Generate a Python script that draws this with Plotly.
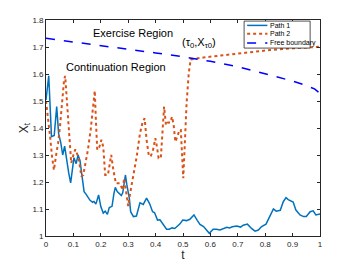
import plotly.graph_objects as go

# Path 1 (blue solid)
t1 = [0, 0.01, 0.02, 0.03, 0.039, 0.046, 0.054, 0.061, 0.068, 0.075, 0.083, 0.09, 0.097, 0.102,
      0.11, 0.117, 0.124, 0.131, 0.139, 0.146, 0.16, 0.17, 0.175, 0.182, 0.192, 0.2, 0.209, 0.216,
      0.224, 0.231, 0.241, 0.248, 0.253, 0.26, 0.268, 0.275, 0.28, 0.29, 0.295, 0.304, 0.309, 0.319,
      0.33, 0.343, 0.355, 0.367, 0.378, 0.389, 0.396, 0.407, 0.416, 0.428, 0.44, 0.45, 0.46, 0.47,
      0.477, 0.489, 0.499, 0.513, 0.525, 0.54, 0.552, 0.562, 0.575, 0.586, 0.596, 0.61, 0.622, 0.635,
      0.648, 0.66, 0.67, 0.68, 0.696, 0.71, 0.72, 0.735, 0.75, 0.763, 0.775, 0.787, 0.803, 0.815,
      0.83, 0.84, 0.855, 0.866, 0.876, 0.884, 0.893, 0.902, 0.912, 0.927, 0.94, 0.95, 0.964, 0.975,
      0.985, 0.99, 1.0]
x1 = [1.504, 1.593, 1.368, 1.372, 1.479, 1.38, 1.345, 1.30, 1.333, 1.281, 1.233, 1.197, 1.244, 1.29,
      1.268, 1.30, 1.28, 1.233, 1.164, 1.155, 1.133, 1.125, 1.128, 1.118, 1.152, 1.109, 1.085, 1.092,
      1.08, 1.105, 1.11, 1.158, 1.18, 1.165, 1.155, 1.15, 1.16, 1.226, 1.19, 1.14, 1.09, 1.072,
      1.074, 1.123, 1.117, 1.14, 1.12, 1.09, 1.087, 1.059, 1.06, 1.04, 1.025, 1.025, 1.03, 1.028,
      1.035, 1.045, 1.059, 1.057, 1.062, 1.078, 1.058, 1.043, 1.035, 1.022, 1.01, 1.025, 1.025, 1.022,
      1.028, 1.032, 1.03, 1.034, 1.037, 1.033, 1.04, 1.044, 1.028, 1.018, 1.022, 1.035, 1.044, 1.069,
      1.10, 1.092, 1.095, 1.127, 1.142, 1.135, 1.13, 1.126, 1.096, 1.078, 1.072, 1.072, 1.09, 1.093,
      1.078, 1.08, 1.082]

# Path 2 (orange dotted)
t2 = [0, 0.007, 0.015, 0.022, 0.029, 0.036, 0.044, 0.051, 0.058, 0.066, 0.07, 0.078, 0.085, 0.092,
      0.1, 0.107, 0.115, 0.122, 0.129, 0.136, 0.144, 0.153, 0.163, 0.17, 0.178, 0.182, 0.187, 0.195,
      0.202, 0.209, 0.216, 0.226, 0.232, 0.238, 0.245, 0.255, 0.27, 0.28, 0.285, 0.294, 0.3, 0.307,
      0.319, 0.331, 0.343, 0.353, 0.36, 0.367, 0.375, 0.382, 0.391, 0.399, 0.405, 0.411, 0.419, 0.426,
      0.431, 0.438, 0.445, 0.453, 0.46, 0.466, 0.472, 0.48, 0.487, 0.492, 0.496, 0.501, 0.507, 0.513,
      0.521, 0.528, 0.574, 0.65, 0.75, 0.818, 0.9, 1.0]
x2 = [1.5, 1.442, 1.368, 1.294, 1.244, 1.294, 1.343, 1.405, 1.49, 1.578, 1.593, 1.467, 1.343, 1.27,
      1.3, 1.321, 1.3, 1.27, 1.22, 1.226, 1.27, 1.319, 1.393, 1.467, 1.538, 1.43, 1.319, 1.33,
      1.356, 1.33, 1.226, 1.226, 1.26, 1.3, 1.25, 1.195, 1.195, 1.17, 1.214, 1.16, 1.111, 1.158,
      1.22, 1.294, 1.38, 1.423, 1.436, 1.356, 1.3, 1.294, 1.32, 1.362, 1.33, 1.288, 1.288, 1.43,
      1.479, 1.41, 1.42, 1.42, 1.442, 1.41, 1.349, 1.37, 1.393, 1.393, 1.294, 1.214, 1.35, 1.49,
      1.603, 1.654, 1.661, 1.670, 1.681, 1.689, 1.695, 1.701]

# Free boundary (blue dashed)
tb = [0, 0.1, 0.2, 0.3, 0.4, 0.5, 0.6, 0.7, 0.8, 0.85, 0.9, 0.95, 0.98, 1.0]
xb = [1.732, 1.719, 1.705, 1.692, 1.678, 1.664, 1.647, 1.627, 1.601, 1.588, 1.574, 1.557, 1.545, 1.528]

xticks = [0, 0.1, 0.2, 0.3, 0.4, 0.5, 0.6, 0.7, 0.8, 0.9, 1]
yticks = [1, 1.1, 1.2, 1.3, 1.4, 1.5, 1.6, 1.7, 1.8]

FONT = "Liberation Sans, Arial, sans-serif"
AX = "#262626"

series = [
    dict(name="Path 1", x=t1, y=x1, line=dict(color="#0072BD", width=1.5)),
    dict(name="Path 2", x=t2, y=x2, line=dict(color="#D95319", width=2, dash="dot")),
    dict(name="Free boundary", x=tb, y=xb, line=dict(color="#0000FF", width=1.5, dash="dash")),
]

fig = go.Figure()
for s in series:
    fig.add_trace(go.Scatter(x=s["x"], y=s["y"], mode="lines", name=s["name"],
                             line=s["line"], showlegend=False))

axis_common = dict(showline=True, linecolor=AX, linewidth=0.8, mirror="ticks",
                   ticks="inside", ticklen=3, tickcolor=AX, tickwidth=0.8,
                   showgrid=False, zeroline=False, automargin=False,
                   tickfont=dict(family=FONT, size=8, color=AX))

# compact legend box (MATLAB-style)
shapes = [dict(type="rect", xref="x domain", yref="y domain", x0=0.723, x1=0.964,
               y0=0.870, y1=0.995, line=dict(color=AX, width=0.8), fillcolor="white", layer="above")]
annotations = []
rows = [0.975, 0.936, 0.893]
for s, yy in zip(series, rows):
    ln = dict(s["line"])
    shapes.append(dict(type="line", xref="x domain", yref="y domain", x0=0.734, x1=0.808,
                       y0=yy, y1=yy, line=ln, layer="above"))
    annotations.append(dict(x=0.812, y=yy, xref="x domain", yref="y domain", text=s["name"],
                            showarrow=False, xanchor="left", yanchor="middle",
                            font=dict(family=FONT, size=7, color="black")))

annotations += [
    dict(x=0.318, y=1.752, xref="x", yref="y", text="Exercise Region", showarrow=False,
         xanchor="center", yanchor="middle", font=dict(family=FONT, size=11, color="black")),
    dict(x=0.257, y=1.626, xref="x", yref="y", text="Continuation Region", showarrow=False,
         xanchor="center", yanchor="middle", font=dict(family=FONT, size=11, color="black")),
    dict(x=0.558, y=1.715, xref="x", yref="y", text="(τ<sub>0</sub>,X<sub>τ0</sub>)",
         showarrow=False, xanchor="center", yanchor="middle",
         font=dict(family=FONT, size=11, color="black")),
]

# page body adds an 8px offset, so the figure is 8px smaller and left/top margins shifted
fig.update_layout(
    width=346, height=258,
    margin=dict(l=38, r=34, t=12, b=30),
    paper_bgcolor="white", plot_bgcolor="white",
    showlegend=False,
    xaxis=dict(range=[0, 1], tickvals=xticks, ticktext=[f"{v:g}" for v in xticks],
               title=dict(text="t", font=dict(family=FONT, size=12, color=AX), standoff=3),
               **axis_common),
    yaxis=dict(range=[1, 1.8], tickvals=yticks, ticktext=[f"{v:g}" for v in yticks],
               title=dict(text="X<sub>t</sub>", font=dict(family=FONT, size=12, color=AX), standoff=0),
               **axis_common),
    shapes=shapes,
    annotations=annotations,
)

fig.write_html("out.html")
